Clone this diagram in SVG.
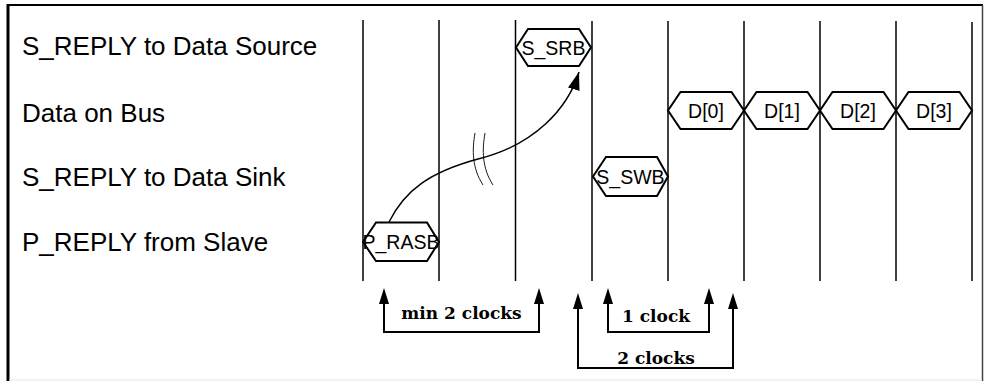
<svg xmlns="http://www.w3.org/2000/svg" width="984" height="381" viewBox="0 0 984 381">
<style>
.lbl{font-family:"Liberation Sans",Arial,sans-serif;font-size:26px;fill:#000}
.hx{fill:#fff;stroke:#000;stroke-width:2}
.ht{font-family:"Liberation Sans",Arial,sans-serif;font-size:19.5px;fill:#000;text-anchor:middle}
.clk{stroke:#000;stroke-width:1.5}
.br{fill:none;stroke:#000;stroke-width:2}
.ah{fill:#000}
.bt{font-family:"DejaVu Serif","Liberation Serif",serif;font-weight:bold;font-size:17px;fill:#000;text-anchor:middle}
</style>
<defs>
<marker id="arr" markerWidth="18" markerHeight="12" viewBox="0 0 18 12" refX="18" refY="6" orient="auto" markerUnits="userSpaceOnUse">
<path d="M0,0 L18,6 L0,12 Z" fill="#000"/>
</marker>
</defs>
<rect width="984" height="381" fill="#fff"/>
<g id="frame">
<line x1="7" y1="5" x2="983" y2="5" stroke="#000" stroke-width="2"/>
<line x1="8" y1="4" x2="8" y2="381" stroke="#000" stroke-width="3"/>
<line x1="982.5" y1="5" x2="982.5" y2="381" stroke="#444" stroke-width="1.5"/>
<line x1="9" y1="380" x2="982" y2="380" stroke="#e4e4e4" stroke-width="1"/>
</g>
<g id="labels">
<text class="lbl" x="22" y="55">S_REPLY to Data Source</text>
<text class="lbl" x="22" y="122">Data on Bus</text>
<text class="lbl" x="22" y="186">S_REPLY to Data Sink</text>
<text class="lbl" x="22" y="251">P_REPLY from Slave</text>
</g>
<g id="clock-lines">
<line class="clk" x1="363" y1="20" x2="363" y2="281"/>
<line class="clk" x1="439" y1="20" x2="439" y2="281"/>
<line class="clk" x1="515.5" y1="20" x2="515.5" y2="281"/>
<line class="clk" x1="592" y1="21" x2="592" y2="281"/>
<line class="clk" x1="668" y1="21" x2="668" y2="281"/>
<line class="clk" x1="744" y1="21" x2="744" y2="281"/>
<line class="clk" x1="820" y1="21" x2="820" y2="281"/>
<line class="clk" x1="896" y1="21" x2="896" y2="281"/>
<line class="clk" x1="972" y1="22" x2="972" y2="281"/>
</g>
<g id="s_srb">
<polygon class="hx" points="516,47.5 528,29 579,29 591,47.5 579,66 528,66"/>
<text class="ht" x="553.5" y="54.5">S_SRB</text>
</g>
<g id="d0">
<polygon class="hx" points="668,110.5 680.5,92 731.5,92 744,110.5 731.5,129 680.5,129"/>
<text class="ht" x="706" y="117.5">D[0]</text>
</g>
<g id="d1">
<polygon class="hx" points="744,110.5 756.5,92 807.5,92 820,110.5 807.5,129 756.5,129"/>
<text class="ht" x="782" y="117.5">D[1]</text>
</g>
<g id="d2">
<polygon class="hx" points="820,110.5 832.5,92 883.5,92 896,110.5 883.5,129 832.5,129"/>
<text class="ht" x="858" y="117.5">D[2]</text>
</g>
<g id="d3">
<polygon class="hx" points="896,110.5 908.5,92 959.5,92 972,110.5 959.5,129 908.5,129"/>
<text class="ht" x="934" y="117.5">D[3]</text>
</g>
<g id="s_swb">
<polygon class="hx" points="593,176.5 606,157 657,157 668,176.5 657,196 606,196"/>
<text class="ht" x="630.5" y="183.5">S_SWB</text>
</g>
<g id="p_rasb">
<polygon class="hx" points="363,242 376,222.5 427,222.5 439,242 427,261 376,261"/>
<text class="ht" x="401" y="249">P_RASB</text>
</g>
<g id="connectors">
<path d="M389,222 C405,190 430,172 478,159 C535,145 568,108 579,72" fill="none" stroke="#000" stroke-width="1.5" marker-end="url(#arr)"/>
<path d="M475,133 C472,150 472,168 483,185" fill="none" stroke="#000" stroke-width="0.9"/>
<path d="M485,133 C482,150 482,168 493,185" fill="none" stroke="#000" stroke-width="0.9"/>
<path class="br" d="M384,302 V332 H539 V302"/>
<polygon class="ah" points="384,288 379,304 389,304"/>
<polygon class="ah" points="539,288 534,304 544,304"/>
<path class="br" d="M608,302 V332 H709 V302"/>
<polygon class="ah" points="608,288 603,304 613,304"/>
<polygon class="ah" points="709,288 704,304 714,304"/>
<path class="br" d="M578,307 V368 H733 V307"/>
<polygon class="ah" points="578,293 573,309 583,309"/>
<polygon class="ah" points="733,293 728,309 738,309"/>
</g>
<g id="annotations">
<text class="bt" x="461.5" y="319">min 2 clocks</text>
<text class="bt" x="656" y="322">1 clock</text>
<text class="bt" x="656" y="364">2 clocks</text>
</g>
</svg>
